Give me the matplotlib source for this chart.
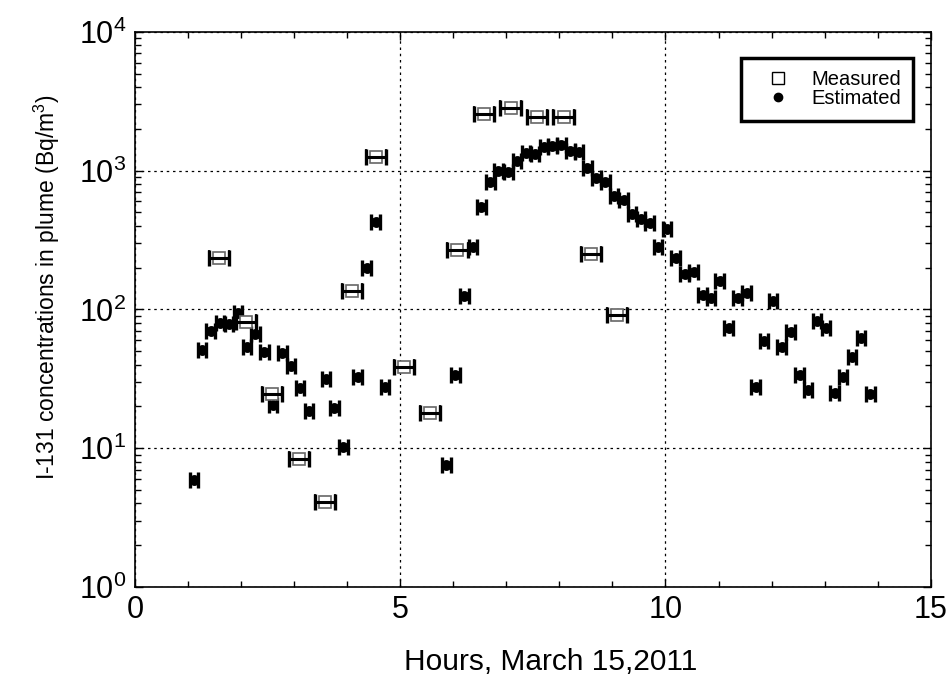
import matplotlib
matplotlib.use("Agg")
import matplotlib.pyplot as plt
from matplotlib.lines import Line2D
from matplotlib.ticker import LogLocator, MultipleLocator, NullFormatter

plt.rcParams['font.family'] = ['Liberation Sans', 'DejaVu Sans']
plt.rcParams['mathtext.fontset'] = 'custom'
plt.rcParams['mathtext.rm'] = 'Liberation Sans'
plt.rcParams['mathtext.it'] = 'Liberation Sans:italic'

# Measured (hours, Bq/m3)
meas_hours = [1.59, 2.09, 2.58, 3.10, 3.59, 4.09, 4.54, 5.08, 5.56, 6.08,
              6.58, 7.08, 7.58, 8.08, 8.59, 9.08]
meas_conc = [233, 81.5, 24.6, 8.4, 4.1, 136, 1247, 38.3, 17.9, 268,
             2545, 2810, 2420, 2420, 249, 91]
meas_xerr = 0.19

# Estimated (hours, Bq/m3)
est_hours = [1.11, 1.27, 1.43, 1.60, 1.77, 1.94, 2.11, 2.27, 2.44, 2.60,
             2.78, 2.94, 3.11, 3.28, 3.60, 3.76, 3.93, 4.20, 4.37, 4.54,
             4.71, 5.87, 6.04, 6.21, 6.37, 6.53, 6.70, 6.85, 7.04, 7.20,
             7.37, 7.54, 7.71, 7.87, 8.04, 8.21, 8.37, 8.53, 8.70, 8.87,
             9.03, 9.21, 9.37, 9.54, 9.70, 9.86, 10.03, 10.19, 10.36, 10.53,
             10.70, 10.86, 11.02, 11.19, 11.36, 11.53, 11.70, 11.86, 12.03, 12.19,
             12.36, 12.53, 12.69, 12.86, 13.03, 13.19, 13.35, 13.52, 13.69, 13.86]
est_conc = [5.9, 50.7, 69.5, 79.4, 78.1, 93.7, 53.3, 66.2, 49.7, 20.5,
            48.3, 38.9, 27.0, 18.5, 31.3, 19.4, 10.2, 32.4, 200, 426,
            27.5, 7.53, 33.5, 126, 280, 544, 824, 998, 972, 1172,
            1333, 1310, 1472, 1504, 1529, 1384, 1355, 1050, 889, 824,
            656, 614, 484, 446, 417, 283, 378, 233, 179, 187,
            128, 120, 161, 73.1, 121, 131, 27.7, 58.9, 116, 53.3,
            68.4, 33.5, 26.3, 82.1, 73.1, 24.9, 32.8, 45.2, 61.9, 24.4]
est_xerr = 0.08

x_ticks = [0, 5, 10, 15]
x_label = "Hours, March 15,2011"
y_label = "I-131 concentrations in plume (Bq/m$^3$)"

fig = plt.figure(figsize=(9.51, 6.88), dpi=100)
ax = fig.add_axes([0.1418, 0.1468, 0.8369, 0.8068])
ax.set_yscale('log')
ax.set_xlim(0, 15)
ax.set_ylim(1, 1e4)

ax.errorbar(est_hours, est_conc, xerr=est_xerr, fmt='o', color='black',
            ms=6.8, elinewidth=2.4, capsize=5.5, capthick=2.4, zorder=3)
ax.errorbar(meas_hours, meas_conc, xerr=meas_xerr, fmt='s', mfc='white',
            mec='#666666', mew=1.2, ms=9, ecolor='black', elinewidth=2.2,
            capsize=6, capthick=2.4, zorder=4)
ax.errorbar(meas_hours, meas_conc, xerr=meas_xerr, fmt='none', ecolor='black',
            elinewidth=2.2, capsize=6, capthick=2.4, zorder=5)

ax.set_xticks(x_ticks)
ax.xaxis.set_minor_locator(MultipleLocator(1))
ax.yaxis.set_major_locator(LogLocator(base=10, numticks=10))
ax.yaxis.set_minor_locator(LogLocator(base=10, subs=range(2, 10), numticks=20))
ax.yaxis.set_minor_formatter(NullFormatter())
ax.tick_params(which='both', direction='in', top=True, right=True, labelsize=22, pad=6)
ax.tick_params(which='major', length=6, width=1)
ax.tick_params(which='minor', length=4, width=1)
ax.grid(True, which='major', color='black', linestyle=(0, (2, 3)), linewidth=0.9)

for s in ax.spines.values():
    s.set_linewidth(1.2)

ax.set_xlabel(x_label, fontsize=21.5)
ax.xaxis.set_label_coords(0.523, -0.11)
ax.set_ylabel(y_label, fontsize=16.5)
ax.yaxis.set_label_coords(-0.092, 0.54)

handles = [Line2D([], [], marker='s', linestyle='none', mfc='white', mec='black',
                  mew=1.0, ms=8),
           Line2D([], [], marker='o', linestyle='none', color='black', ms=6)]
leg = ax.legend(handles, ['Measured', 'Estimated'], loc='upper right',
                bbox_to_anchor=(0.9774, 0.9524), fancybox=False, framealpha=1,
                edgecolor='black', fontsize=14.5, handletextpad=0.45,
                borderpad=0.6, labelspacing=0.0, handlelength=2.4,
                borderaxespad=0)
leg.get_frame().set_linewidth(2.5)

fig.savefig("out.png", dpi=100)
